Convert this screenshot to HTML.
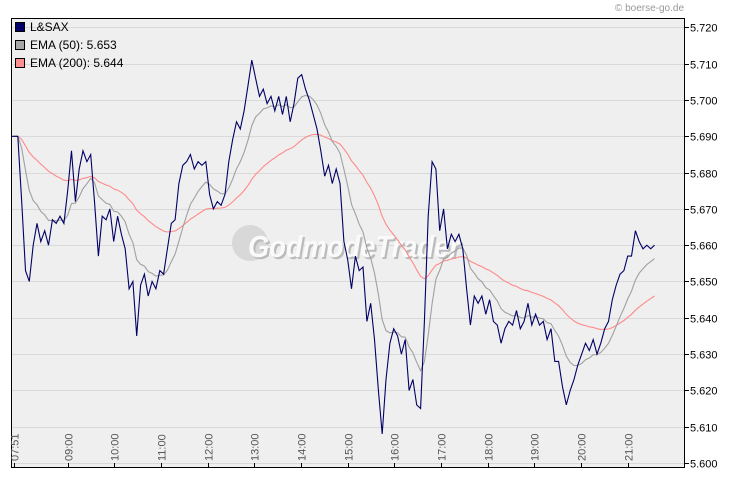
<!DOCTYPE html>
<html><head><meta charset="utf-8"><style>
body{margin:0;background:#fff;}
svg{display:block;font-family:"Liberation Sans",sans-serif;}
</style></head><body>
<svg id="chart" width="730" height="481" viewBox="0 0 730 481" xmlns="http://www.w3.org/2000/svg">
<rect x="0" y="0" width="730" height="481" fill="#fff"/>
<text x="684" y="11" font-size="10" fill="#999" text-anchor="end">© boerse-go.de</text>
<rect x="11.5" y="18.5" width="673" height="449" fill="#efefef" stroke="none"/>
<g id="grid"></g>
<g>
<circle cx="250" cy="243" r="18" fill="#d8d8d8"/>
<text x="250" y="259" font-size="31" font-weight="bold" font-style="italic" fill="#bbb" textLength="212" lengthAdjust="spacingAndGlyphs">GodmodeTrader</text>
<text x="248" y="257" font-size="31" font-weight="bold" font-style="italic" fill="#fafafa" textLength="212" lengthAdjust="spacingAndGlyphs">GodmodeTrader</text>
</g>
<g id="series"></g>
<rect x="11.5" y="18.5" width="673" height="449" fill="none" stroke="#000" stroke-width="1"/>
<g id="axes"></g>
<g>
<rect x="15.5" y="22.5" width="9" height="9" fill="#000066" stroke="#000"/>
<text x="30" y="31" font-size="12" fill="#000">L&amp;SAX</text>
<rect x="15.5" y="40.5" width="9" height="9" fill="#a6a6a6" stroke="#000"/>
<text x="30" y="49" font-size="12" fill="#000">EMA (50): 5.653</text>
<rect x="15.5" y="58.5" width="9" height="9" fill="#ff9090" stroke="#000"/>
<text x="30" y="67" font-size="12" fill="#000">EMA (200): 5.644</text>
</g>
</svg>
<script>
const prices = [5.690,5.690,5.672,5.653,5.650,5.660,5.666,5.661,5.664,5.660,5.667,5.666,5.668,5.666,5.675,
5.686,5.672,5.681,5.686,5.683,5.685,5.672,5.657,5.668,5.667,5.670,5.661,5.668,5.663,5.659,5.648,
5.650,5.635,5.649,5.652,5.646,5.650,5.648,5.653,5.652,5.659,5.666,5.667,5.677,5.682,5.683,5.685,5.681,5.683,5.682,5.683,5.674,5.670,5.672,5.671,5.674,5.683,5.689,5.694,5.692,5.697,5.704,5.711,5.706,5.701,5.703,5.699,5.701,5.697,5.701,5.696,5.701,5.694,5.699,5.706,5.707,5.703,5.700,5.696,5.692,5.686,5.679,5.682,5.677,5.681,5.677,5.661,
5.656,5.648,5.657,5.653,5.654,5.639,5.644,5.634,
5.620,5.608,5.623,5.633,5.637,5.635,5.630,5.634,5.620,5.623,5.616,
5.615,5.639,5.668,5.683,5.681,5.664,5.670,5.659,5.663,5.661,5.663,5.659,5.648,5.638,5.646,5.644,5.646,5.641,5.645,5.639,5.638,5.633,5.637,5.639,5.638,5.642,5.637,5.639,5.644,5.638,5.641,5.638,5.639,5.634,5.637,5.628,5.628,5.621,5.616,5.620,5.623,5.627,5.630,5.633,5.631,5.634,5.630,5.633,5.637,5.639,5.645,5.649,5.652,5.653,5.657,5.657,5.664,5.661,5.659,5.660,5.659,
5.660];
const startMinute = 471; // 07:51
const stepMinutes = 4.93;
const ema50Start = 5.690;
const ema200Start = 5.690;
const yTicks = [5.600,5.610,5.620,5.630,5.640,5.650,5.660,5.670,5.680,5.690,5.700,5.710,5.720];
const yTickLabels = ["5.600","5.610","5.620","5.630","5.640","5.650","5.660","5.670","5.680","5.690","5.700","5.710","5.720"];
const xTickMinutes = [471,540,600,660,720,780,840,900,960,1020,1080,1140,1200,1260];
const xTickLabels = ["07:51","09:00","10:00","11:00","12:00","13:00","14:00","15:00","16:00","17:00","18:00","19:00","20:00","21:00"];

const NS="http://www.w3.org/2000/svg";
function xScale(t){return 14+(t-471)*0.778;}
function yScale(v){return 463-(v-5.600)*3630;}
function mk(tag,attrs,parent){const e=document.createElementNS(NS,tag);for(const k in attrs)e.setAttribute(k,attrs[k]);parent.appendChild(e);return e;}
const grid=document.getElementById('grid'),axes=document.getElementById('axes'),series=document.getElementById('series');
yTicks.forEach((v,i)=>{
  const y=Math.round(yScale(v))+0.5;
  const g=mk('line',{x1:12,x2:684,y1:y,y2:y,stroke:'#d9d9d9','stroke-width':1},grid);
  
  
  const t=mk('line',{x1:685,x2:689,y1:y,y2:y,stroke:'#000'},axes);
  
  
  const l=mk('text',{x:690,y:y+4,'font-size':11,fill:'#000'},axes);
  l.textContent=yTickLabels[i];
  
  
});
xTickMinutes.forEach((m,i)=>{
  const x=Math.round(xScale(m))+0.5;
  const t=mk('line',{x1:x,x2:x,y1:463,y2:468,stroke:'#000'},axes);
  
  
  const l=mk('text',{x:0,y:0,'font-size':11,fill:'#555','text-anchor':'start',transform:`translate(${x+4},461) rotate(-90)`},axes);
  l.textContent=xTickLabels[i];
  
  
});
function ema(arr,n,start){const a=2/(n+1);let e=start;return arr.map(v=>(e=e+a*(v-e)));}
const e50=ema(prices,10,ema50Start), e200=ema(prices,40,ema200Start);
function path(arr){return arr.map((v,i)=>(i?'L':'M')+xScale(startMinute+i*stepMinutes).toFixed(1)+','+yScale(v).toFixed(1)).join('');}
const p200=mk('path',{d:path(e200),fill:'none',stroke:'#ff8a8a','stroke-width':1.1},series);


const p50=mk('path',{d:path(e50),fill:'none',stroke:'#a0a0a0','stroke-width':1.1},series);


const pp=mk('path',{d:'M12,'+yScale(prices[0]).toFixed(1)+'L'+path(prices).slice(1),fill:'none',stroke:'#000066','stroke-width':1.1},series);


</script>
</body></html>
